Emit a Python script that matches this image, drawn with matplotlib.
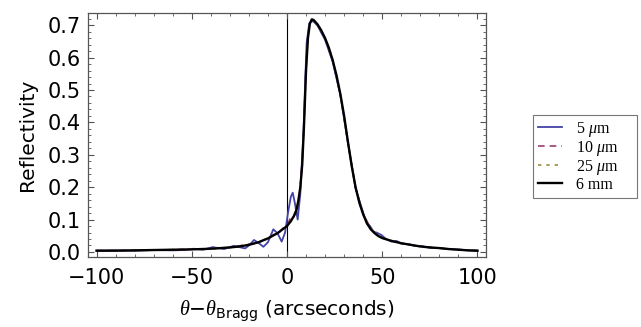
import numpy as np
import matplotlib
matplotlib.use("Agg")
import matplotlib.pyplot as plt
from matplotlib.ticker import MultipleLocator

plt.rcParams['mathtext.fontset'] = 'custom'
plt.rcParams['mathtext.it'] = 'Liberation Serif:italic'
plt.rcParams['mathtext.rm'] = 'Liberation Serif'
plt.rcParams['mathtext.sf'] = 'DejaVu Sans'

# angle offsets (arcsec) and reflectivity
x_thick = [-100, -90, -80, -70, -60, -50, -40, -30, -25, -20, -15, -10, -5, 0,
           2, 4, 5, 6, 7, 8, 9, 10, 11, 12, 13, 14, 16, 18, 20, 22, 24, 26, 28,
           30, 32, 34, 36, 38, 40, 42, 44, 46, 48, 50, 55, 60, 65, 70, 75, 80,
           85, 90, 95, 100]
r_6mm = [0.004, 0.004, 0.005, 0.006, 0.007, 0.008, 0.010, 0.014, 0.017, 0.022,
         0.030, 0.042, 0.058, 0.080, 0.095, 0.115, 0.130, 0.160, 0.200, 0.270,
         0.400, 0.560, 0.660, 0.705, 0.718, 0.716, 0.703, 0.684, 0.660, 0.630,
         0.592, 0.545, 0.488, 0.420, 0.340, 0.265, 0.200, 0.152, 0.116, 0.088,
         0.070, 0.058, 0.049, 0.043, 0.034, 0.027, 0.022, 0.017, 0.014, 0.012,
         0.009, 0.007, 0.005, 0.004]
r_25um = [0.004, 0.004, 0.005, 0.006, 0.007, 0.008, 0.010, 0.014, 0.017, 0.022,
          0.030, 0.043, 0.057, 0.081, 0.094, 0.117, 0.128, 0.162, 0.200, 0.275,
          0.405, 0.565, 0.662, 0.704, 0.716, 0.715, 0.702, 0.683, 0.659, 0.629,
          0.591, 0.544, 0.487, 0.419, 0.339, 0.264, 0.199, 0.152, 0.117, 0.087,
          0.071, 0.057, 0.050, 0.042, 0.035, 0.026, 0.022, 0.017, 0.014, 0.012,
          0.009, 0.007, 0.005, 0.004]

x_10um = [-100, -80, -60, -40, -30, -20, -15, -12, -10, -7, -5, -2, 0, 1.5, 3,
          4.5, 6, 7, 8, 9, 10, 11, 12, 13, 14, 16, 20, 24, 28, 32, 36, 40, 44,
          48, 52, 60, 70, 80, 90, 100]
r_10um = [0.004, 0.005, 0.007, 0.010, 0.014, 0.024, 0.028, 0.038, 0.040, 0.054,
          0.055, 0.074, 0.078, 0.102, 0.098, 0.130, 0.150, 0.205, 0.280, 0.410,
          0.570, 0.665, 0.705, 0.716, 0.714, 0.701, 0.658, 0.590, 0.486, 0.338,
          0.198, 0.118, 0.072, 0.050, 0.039, 0.027, 0.017, 0.012, 0.007, 0.004]

x_5um = [-100, -90, -80, -70, -60, -54, -49, -44, -39, -33, -28, -25, -22, -20,
         -17.3, -15, -12.4, -10, -7.2, -5, -2.8, -1, 0.5, 2, 3, 4, 5.6, 7, 8,
         8.6, 9.4, 10.3, 11.7, 13, 14, 16, 20, 24, 28, 32, 36, 40, 42, 43.6,
         45.5, 47, 49.7, 52, 55, 57.6, 60, 64, 67, 71, 75, 80, 85, 90, 95, 100]
r_5um = [0.004, 0.005, 0.004, 0.006, 0.005, 0.006, 0.010, 0.007, 0.015, 0.009,
         0.019, 0.015, 0.011, 0.020, 0.037, 0.028, 0.016, 0.030, 0.070, 0.058,
         0.032, 0.060, 0.120, 0.170, 0.183, 0.155, 0.100, 0.180, 0.300, 0.360,
         0.500, 0.645, 0.706, 0.712, 0.711, 0.699, 0.655, 0.587, 0.485, 0.337,
         0.197, 0.121, 0.090, 0.080, 0.062, 0.060, 0.052, 0.040, 0.032, 0.034,
         0.026, 0.024, 0.019, 0.018, 0.013, 0.012, 0.009, 0.008, 0.005, 0.004]

labels = ["5 $\\mu$m", "10 $\\mu$m", "25 $\\mu$m", "6 mm"]
colors = ["#4343a8", "#993d71", "#998b3d", "black"]

fig = plt.figure(figsize=(6.41, 3.27), dpi=100)
ax = fig.add_axes([88 / 641, 1 - 257 / 327, (486 - 88) / 641, (257 - 13) / 327])

ax.plot(x_5um, r_5um, color=colors[0], lw=1.3, label=labels[0])
ax.plot(x_10um, r_10um, color=colors[1], lw=1.2, ls=(0, (4, 3)), label=labels[1])
ax.plot(x_thick, r_25um, color=colors[2], lw=1.2, ls=(0, (2, 3)), label=labels[2])
ax.plot(x_thick, r_6mm, color=colors[3], lw=1.7, label=labels[3])

ax.axvline(0, color="black", lw=0.8, zorder=0)

ax.set_xlim(-104.5, 104.5)
ax.set_ylim(-0.0155, 0.7377)
ax.xaxis.set_minor_locator(MultipleLocator(10))
ax.yaxis.set_minor_locator(MultipleLocator(0.02))
ax.set_xticks([-100, -50, 0, 50, 100])
ax.set_xticklabels(["\u2212100", "\u221250", "0", "50", "100"])
ax.set_yticks(np.arange(0, 0.71, 0.1))
ax.set_yticklabels(["%.1f" % v for v in np.arange(0, 0.71, 0.1)])

ax.tick_params(which="both", direction="in", top=True, right=True,
               color="#555555", labelsize=15)
ax.tick_params(axis="x", which="major", length=4, width=0.8, pad=8)
ax.tick_params(axis="y", which="major", length=4, width=0.8, pad=5)
ax.tick_params(which="minor", length=2, width=0.6)
for s in ax.spines.values():
    s.set_color("#555555")
    s.set_linewidth(0.9)

ax.set_ylabel("Reflectivity", fontsize=14.5, labelpad=8)
ax.set_xlabel("$\\theta$\u2212$\\theta_{\\mathsf{Bragg}}$ (arcseconds)",
              fontsize=14.5, labelpad=8)

# legend box outside the axes, stretched to the reference width
leg = ax.legend(loc="upper left", mode="expand",
                bbox_to_anchor=(533 / 641, 1 - 197 / 327, 104 / 641, 82 / 327),
                bbox_transform=fig.transFigure, frameon=True, fancybox=False,
                edgecolor="#555555", prop={"family": "Liberation Serif", "size": 11.5},
                handlelength=1.5, handletextpad=0.9, labelspacing=0.0,
                borderpad=0.3, borderaxespad=0)
leg.get_frame().set_linewidth(0.8)

fig.savefig("out.png", dpi=100)
